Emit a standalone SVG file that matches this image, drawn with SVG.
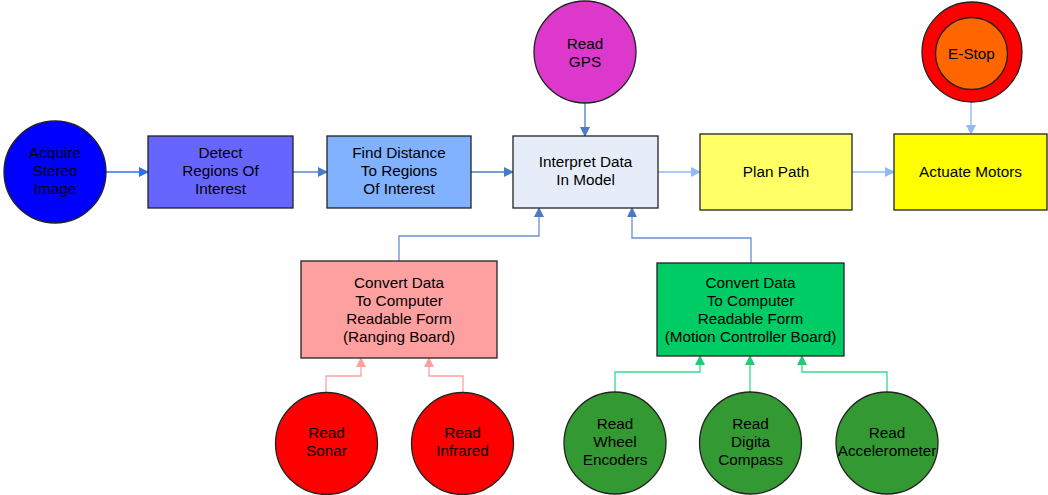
<svg xmlns="http://www.w3.org/2000/svg" width="1048" height="495" viewBox="0 0 1048 495">
<defs>
<style>
text{font-family:"Liberation Sans",Arial,sans-serif;font-size:15.3px;fill:#000;text-anchor:middle}
.n{stroke:#222;stroke-width:1.3}
.c{fill:none;stroke-width:1.3}
</style>
<marker id="aBlue" markerWidth="10" markerHeight="10" refX="9" refY="5" orient="auto" markerUnits="userSpaceOnUse"><path d="M0,0 L10,5 L0,10 z" fill="#2f6fef"/></marker>
<marker id="aSteel" markerWidth="10" markerHeight="10" refX="9" refY="5" orient="auto" markerUnits="userSpaceOnUse"><path d="M0,0 L10,5 L0,10 z" fill="#4a7cc4"/></marker>
<marker id="aLight" markerWidth="10" markerHeight="10" refX="9" refY="5" orient="auto" markerUnits="userSpaceOnUse"><path d="M0,0 L10,5 L0,10 z" fill="#8fb8f5"/></marker>
<marker id="aPink" markerWidth="10" markerHeight="10" refX="9" refY="5" orient="auto" markerUnits="userSpaceOnUse"><path d="M0,0 L10,5 L0,10 z" fill="#ffa0a0"/></marker>
<marker id="aGreen" markerWidth="10" markerHeight="10" refX="9" refY="5" orient="auto" markerUnits="userSpaceOnUse"><path d="M0,0 L10,5 L0,10 z" fill="#22cc77"/></marker>
</defs>
<rect width="1048" height="495" fill="#fff"/>
<g id="connectors">
<path class="c" d="M106,172 H148" stroke="#2f6fef" marker-end="url(#aBlue)"/>
<path class="c" d="M293,172 H327" stroke="#5a84cc" marker-end="url(#aSteel)"/>
<path class="c" d="M471,172 H513" stroke="#4a7cc4" marker-end="url(#aSteel)"/>
<path class="c" d="M658,172 H700" stroke="#8fb8f5" marker-end="url(#aLight)"/>
<path class="c" d="M852,172 H894" stroke="#8fb8f5" marker-end="url(#aLight)"/>
<path class="c" d="M585,103 V136" stroke="#4a7cc4" marker-end="url(#aSteel)"/>
<path class="c" d="M971,102 V134" stroke="#8fb8f5" marker-end="url(#aLight)"/>
<path class="c" d="M399,261 V236 H539 V208" stroke="#6a90d0" marker-end="url(#aSteel)"/>
<path class="c" d="M751,263 V238 H632 V208" stroke="#6a90d0" marker-end="url(#aSteel)"/>
<path class="c" d="M326,393 V376 H361 V358" stroke="#ffa0a0" marker-end="url(#aPink)"/>
<path class="c" d="M463,393 V376 H429 V358" stroke="#ffa0a0" marker-end="url(#aPink)"/>
<path class="c" d="M615,392 V372 H700 V356" stroke="#33dd88" marker-end="url(#aGreen)"/>
<path class="c" d="M750,392 V356" stroke="#33dd88" marker-end="url(#aGreen)"/>
<path class="c" d="M887,392 V372 H802 V356" stroke="#33dd88" marker-end="url(#aGreen)"/>
</g>
<g id="acquire"><circle class="n" cx="55" cy="172" r="51" fill="#0000ff"/><text x="55" y="158">Acquire</text><text x="55" y="176">Stereo</text><text x="55" y="194">Image</text></g>
<g id="detect"><rect class="n" x="148" y="136" width="145" height="72" fill="#6666ff"/><text x="220.5" y="158">Detect</text><text x="220.5" y="176">Regions Of</text><text x="220.5" y="194">Interest</text></g>
<g id="finddistance"><rect class="n" x="327" y="136" width="144" height="72" fill="#80b2ff"/><text x="399" y="158">Find Distance</text><text x="399" y="176">To Regions</text><text x="399" y="194">Of Interest</text></g>
<g id="interpret"><rect class="n" x="513" y="136" width="145" height="72" fill="#e6edf8"/><text x="585.5" y="167">Interpret Data</text><text x="585.5" y="185">In Model</text></g>
<g id="gps"><circle class="n" cx="585" cy="52" r="51" fill="#dd38cc"/><text x="585" y="49">Read</text><text x="585" y="67">GPS</text></g>
<g id="planpath"><rect class="n" x="700" y="134" width="152" height="76" fill="#ffff66"/><text x="776" y="177">Plan Path</text></g>
<g id="actuate"><rect class="n" x="894" y="134" width="153" height="76" fill="#ffff00"/><text x="970.5" y="177">Actuate Motors</text></g>
<g id="estop"><circle class="n" cx="972" cy="52" r="50" fill="#ff0000"/><circle class="n" cx="971.5" cy="53.5" r="36" fill="#ff6600"/><text x="971.5" y="59">E-Stop</text></g>
<g id="ranging"><rect class="n" x="301" y="261" width="196" height="97" fill="#ffa0a0"/><text x="399" y="288">Convert Data</text><text x="399" y="306">To Computer</text><text x="399" y="324">Readable Form</text><text x="399" y="342">(Ranging Board)</text></g>
<g id="motion"><rect class="n" x="657" y="263" width="187" height="93" fill="#00cc66"/><text x="750.5" y="288">Convert Data</text><text x="750.5" y="306">To Computer</text><text x="750.5" y="324">Readable Form</text><text x="750.5" y="342">(Motion Controller Board)</text></g>
<g id="sonar"><circle class="n" cx="326.5" cy="443.5" r="51" fill="#ff0000"/><text x="326.5" y="438">Read</text><text x="326.5" y="456">Sonar</text></g>
<g id="infrared"><circle class="n" cx="462.5" cy="443.5" r="51" fill="#ff0000"/><text x="462.5" y="438">Read</text><text x="462.5" y="456">Infrared</text></g>
<g id="wheel"><circle class="n" cx="615" cy="443" r="51" fill="#339933"/><text x="615" y="429">Read</text><text x="615" y="447">Wheel</text><text x="615" y="465">Encoders</text></g>
<g id="compass"><circle class="n" cx="750.5" cy="443" r="51" fill="#339933"/><text x="750.5" y="429">Read</text><text x="750.5" y="447">Digita</text><text x="750.5" y="465">Compass</text></g>
<g id="accel"><circle class="n" cx="887" cy="443" r="51" fill="#339933"/><text x="887" y="438">Read</text><text x="887" y="456">Accelerometer</text></g>
</svg>
